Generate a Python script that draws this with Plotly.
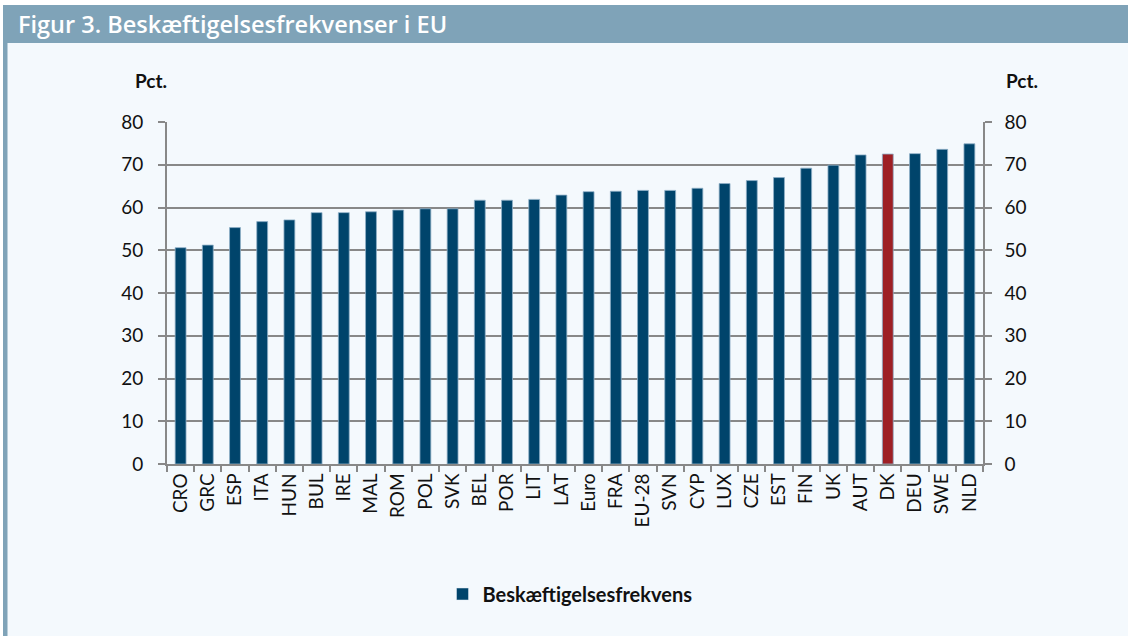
import plotly.graph_objects as go

countries = ["CRO", "GRC", "ESP", "ITA", "HUN", "BUL", "IRE", "MAL", "ROM", "POL",
             "SVK", "BEL", "POR", "LIT", "LAT", "Euro", "FRA", "EU-28", "SVN", "CYP",
             "LUX", "CZE", "EST", "FIN", "UK", "AUT", "DK", "DEU", "SWE", "NLD"]
values = [50.6, 51.2, 55.3, 56.7, 57.1, 58.8, 58.8, 59.0, 59.4, 59.7,
          59.7, 61.7, 61.7, 61.9, 62.9, 63.7, 63.8, 64.0, 64.0, 64.5,
          65.6, 66.3, 67.0, 69.2, 69.9, 72.3, 72.5, 72.6, 73.6, 74.9]
y_ticks = [0, 10, 20, 30, 40, 50, 60, 70, 80]
series_name = "Beskæftigelsesfrekvens"
title_text = "Figur 3. Beskæftigelsesfrekvenser i EU"
unit_label = "Pct."

BLUE = "#00446B"
RED = "#9E1F24"
GRAY = "#888888"
BG = "#F4F9FD"
BAR_TITLE = "#7FA3B8"
FONT = "Lato"

colors = [RED if c == "DK" else BLUE for c in countries]

W, H = 1128, 636
L, R, T, B = 167, 983, 122, 464  # plot area pixels


def px(x):
    return (x - L) / (R - L)


def py(y):
    return (B - y) / (B - T)


fig = go.Figure()
fig.add_trace(go.Bar(
    x=countries, y=values, name=series_name,
    marker=dict(color=colors, line=dict(color="#8FB0C8", width=0.8)),
    showlegend=False,
))
# legend proxy
fig.add_trace(go.Bar(
    x=[None], y=[None], name=series_name,
    marker=dict(color=BLUE), showlegend=True,
))
# right axis carrier
fig.add_trace(go.Scatter(
    x=countries, y=values, yaxis="y2", mode="none",
    showlegend=False, hoverinfo="skip",
))

axis_common = dict(
    range=[0, 80], tickvals=y_ticks, showgrid=True, gridcolor=GRAY, gridwidth=1.6,
    showline=True, linecolor=GRAY, linewidth=1.6, ticks="outside", ticklen=7,
    tickcolor=GRAY, tickwidth=1.6, zeroline=False,
    tickfont=dict(family=FONT, size=19, color="#111111"), fixedrange=True,
)

fig.update_layout(
    width=W, height=H,
    margin=dict(l=L, r=W - R, t=T, b=H - B),
    paper_bgcolor=BG, plot_bgcolor=BG,
    barmode="overlay", bargap=0.6,
    xaxis=dict(
        tickangle=-90, ticks="outside", tickson="boundaries", ticklen=6,
        tickcolor=GRAY, tickwidth=1.6, showline=True, linecolor=GRAY, linewidth=1.6,
        tickfont=dict(family=FONT, size=19, color="#111111"),
        showgrid=False, range=[-0.5, len(countries) - 0.5], fixedrange=True,
    ),
    yaxis=dict(**axis_common, ticklabelstandoff=11),
    yaxis2=dict(**axis_common, overlaying="y", side="right", ticklabelstandoff=9),
    legend=dict(
        orientation="h", x=px(570), xanchor="center", y=py(594), yanchor="middle",
        font=dict(family=FONT, size=20, color="#111111", weight="bold"),
        bgcolor="rgba(0,0,0,0)",
    ),
    shapes=[
        dict(type="rect", xref="paper", yref="paper", x0=px(-5), x1=px(W + 5),
             y0=py(5), y1=py(-5), fillcolor="white", line_width=0, layer="below"),
        dict(type="rect", xref="paper", yref="paper", x0=px(3), x1=px(W + 5),
             y0=py(43), y1=py(5), fillcolor=BAR_TITLE, line_width=0, layer="below"),
        dict(type="rect", xref="paper", yref="paper", x0=px(-5), x1=px(3),
             y0=py(H + 5), y1=py(5), fillcolor="white", line_width=0, layer="below"),
        dict(type="rect", xref="paper", yref="paper", x0=px(3), x1=px(7.5),
             y0=py(H + 5), y1=py(43), fillcolor=BAR_TITLE, line_width=0, layer="below"),
    ],
    annotations=[
        dict(text=title_text, xref="paper", yref="paper", x=px(16), y=py(24),
             xanchor="left", yanchor="middle", showarrow=False,
             font=dict(family="Open Sans", size=23.5, color="white", weight=600)),
        dict(text="<b>" + unit_label + "</b>", xref="paper", yref="paper", x=px(169), y=py(80),
             xanchor="right", yanchor="middle", showarrow=False,
             font=dict(family=FONT, size=19, color="#111111")),
        dict(text="<b>" + unit_label + "</b>", xref="paper", yref="paper", x=px(1004), y=py(80),
             xanchor="left", yanchor="middle", showarrow=False,
             font=dict(family=FONT, size=19, color="#111111")),
    ],
)

fig.write_html("out.html", config={"displayModeBar": False},
               post_script="document.body.style.margin='0';")
